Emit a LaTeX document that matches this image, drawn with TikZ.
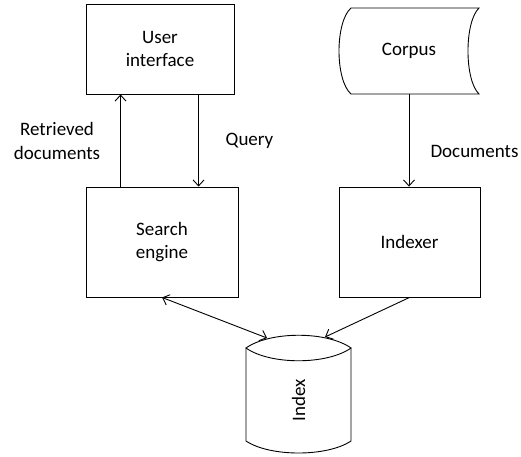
\documentclass[tikz,border=0pt]{standalone}
\usepackage{fontspec}
\setmainfont{Carlito}
\usetikzlibrary{arrows.meta}
\begin{document}
\begin{tikzpicture}[x=1pt,y=-1pt,
  every node/.style={font=\fontsize{19}{23.5}\selectfont, text=black},
  boxnode/.style={draw, line width=0.9pt, inner sep=0pt, align=center},
  lbl/.style={align=center, inner sep=0pt},
  arr/.style={line width=0.9pt, -{Straight Barb[length=6pt,width=11pt,line width=0.9pt]}},
  darr/.style={line width=0.9pt, {Straight Barb[length=6pt,width=11pt,line width=0.9pt]}-{Straight Barb[length=6pt,width=11pt,line width=0.9pt]}},
  shapeline/.style={line width=0.9pt}]
\useasboundingbox (0,0) rectangle (521,456);
% boxes
\node[boxnode, minimum width=148pt, minimum height=90pt] (ui) at (160,49) {User\\interface};
\node[boxnode, minimum width=152pt, minimum height=110pt] (search) at (162,242) {Search\\engine};
\node[boxnode, minimum width=141pt, minimum height=110pt] (indexer) at (409.5,242) {Indexer};
% corpus (stored data shape)
\node[inner sep=0pt, minimum width=128pt, minimum height=86pt] (corpus) at (409,51) {Corpus};
\draw[shapeline] (351,8) -- (479,8) .. controls (464.3,22) and (464.3,80) .. (479,94)
  -- (351,94) .. controls (335,80) and (335,22) .. (351,8) -- cycle;
% index cylinder
\node[inner sep=0pt, rotate=90] (index) at (298.5,400) {Index};
\draw[shapeline] (246,348) .. controls (270,331) and (327,331) .. (351,348)
  .. controls (327,365) and (270,365) .. (246,348) -- cycle;
\draw[shapeline] (246,348) -- (246,441) .. controls (270,457) and (327,457) .. (351,441) -- (351,348);
\coordinate (itopl) at (267,338);
\coordinate (itopr) at (325,337);
% connectors
\draw[arr] ([xshift=35pt]search.north west) -- ([xshift=35pt]ui.south west);
\draw[arr] ([xshift=113pt]ui.south west) -- ([xshift=113pt]search.north west);
\draw[arr] (corpus.south) -- (corpus.south |- indexer.north);
\draw[darr] (search.south) -- (itopl);
\draw[arr] (indexer.south) -- (itopr);
% labels
\node[lbl] (lret) at (57,141) {Retrieved\\documents};
\node[lbl] (lquery) at (249.5,141) {Query};
\node[lbl] (ldocs) at (474.5,151) {Documents};
\end{tikzpicture}
\end{document}
